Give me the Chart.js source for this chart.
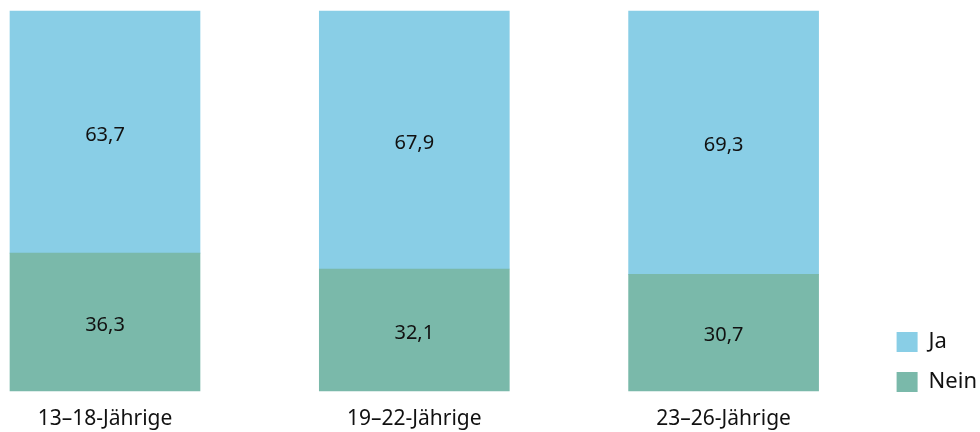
<!DOCTYPE html>
<html>
<head>
<meta charset="utf-8">
<script src="https://cdn.jsdelivr.net/npm/chart.js@4.4.1/dist/chart.umd.min.js"></script>
<style>
  html, body { margin: 0; padding: 0; background: #fff; }
  #wrap { width: 980px; height: 432px; }
</style>
</head>
<body>
<div id="wrap"><canvas id="chart" width="980" height="432"></canvas></div>
<script>
const categories = ["13–18-Jährige", "19–22-Jährige", "23–26-Jährige"];
const jaValues = [63.7, 67.9, 69.3];
const neinValues = [36.3, 32.1, 30.7];
const seriesNames = ["Ja", "Nein"];

const FONT = "'Noto Sans', sans-serif";

// draws the numbers in the middle of every segment
const valueLabels = {
    id: "valueLabels",
    afterDatasetsDraw(chart) {
        const ctx = chart.ctx;
        ctx.save();
        ctx.font = "20px " + FONT;
        ctx.fillStyle = "#111";
        ctx.textAlign = "center";
        ctx.textBaseline = "middle";
        chart.data.datasets.forEach((ds, i) => {
            const meta = chart.getDatasetMeta(i);
            meta.data.forEach((bar, j) => {
                const p = bar.getProps(["x", "y", "base"], true);
                const txt = ds.data[j].toFixed(1).replace(".", ",");
                ctx.fillText(txt, p.x, (p.y + p.base) / 2 + 3);
            });
        });
        ctx.restore();
    }
};

new Chart(document.getElementById("chart"), {
    type: "bar",
    data: {
        labels: categories,
        datasets: [
            { label: seriesNames[1], data: neinValues, backgroundColor: "#7ab9aa", clip: false },
            { label: seriesNames[0], data: jaValues, backgroundColor: "#89cee6", clip: false }
        ]
    },
    options: {
        responsive: false,
        animation: false,
        events: [],
        barThickness: 190,
        layout: { padding: { left: 105, top: 11, right: -7, bottom: 0 } },
        scales: {
            x: {
                stacked: true,
                offset: false,
                grid: { display: false, drawTicks: false },
                border: { display: false },
                ticks: { font: { family: FONT, size: 21 }, color: "#111", padding: 15, maxRotation: 0 },
                afterFit: s => { s.height = 41; }
            },
            y: {
                stacked: true,
                position: "right",
                min: 0,
                max: 100,
                grid: { display: false, drawTicks: false },
                border: { display: false },
                ticks: { display: false },
                afterFit: s => { s.width = 155; }
            }
        },
        plugins: {
            legend: {
                position: "right",
                align: "start",
                reverse: true,
                title: { display: true, text: "", font: { size: 10 }, padding: { top: 290, bottom: 0 } },
                labels: {
                    boxWidth: 21,
                    boxHeight: 20,
                    padding: 18,
                    color: "#111",
                    font: { family: FONT, size: 22 }
                }
            },
            tooltip: { enabled: false }
        }
    },
    plugins: [valueLabels]
});
</script>
</body>
</html>
